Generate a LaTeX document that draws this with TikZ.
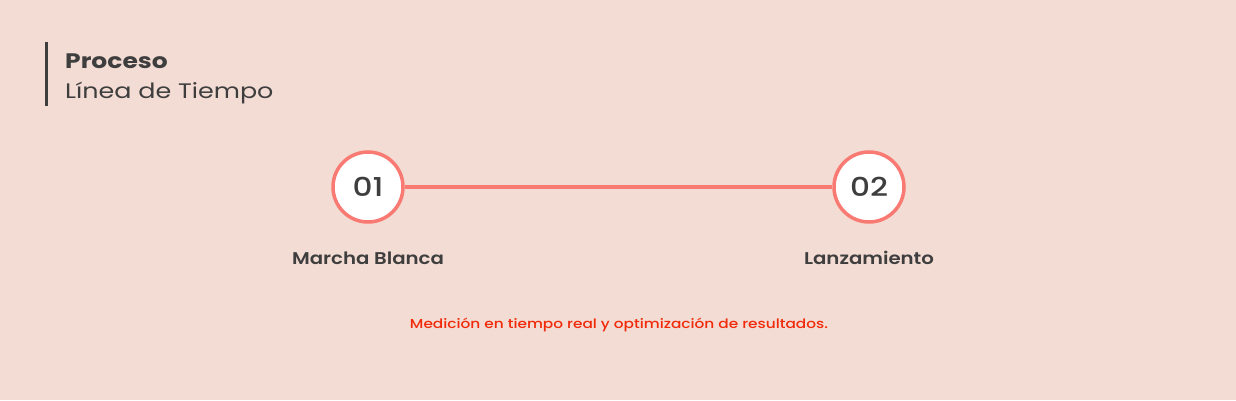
\documentclass[tikz,border=0pt]{standalone}
\usepackage{fontspec}
\usepackage{graphicx}
\setmainfont{Poppins}
\newfontfamily\popsemi{Poppins SemiBold}
\newfontfamily\popmed{Poppins Medium}
\definecolor{bg}{RGB}{243,220,211}
\definecolor{salmon}{RGB}{248,122,114}
\definecolor{ink}{RGB}{62,62,62}
\definecolor{redtxt}{RGB}{240,42,10}
\newcommand{\wide}[2]{\scalebox{#1}[1]{#2}}
\tikzset{
  stepcirc/.style={circle, draw=salmon, line width=3.5pt, fill=white, minimum size=70pt, inner sep=0pt, text=ink, font=\popmed\fontsize{26}{26}\selectfont},
  steplabel/.style={text=ink, font=\popsemi\fontsize{17}{17}\selectfont, anchor=base, inner sep=0pt},
  connector/.style={draw=salmon, line width=3.5pt}
}
\begin{document}
\begin{tikzpicture}[x=1pt,y=-1pt]
\fill[bg] (0,0) rectangle (1236,400);
\useasboundingbox (0,0) rectangle (1236,400);
\draw[ink, line width=2.5pt] (46.5,42) coordinate (bt) -- (46.5,106) coordinate (bb);
\node[anchor=base west, inner sep=0pt, text=ink, font=\bfseries\fontsize{21}{21}\selectfont] (t1) at (65,68) {\wide{1.19}{Proceso}};
\node[anchor=base west, inner sep=0pt, text=ink, font=\fontsize{21}{21}\selectfont] (t2) at (65,98) {\wide{1.21}{Línea de Tiempo}};
\node[stepcirc] (c1) at (368,187) {\wide{1.2}{01}};
\node[stepcirc] (c2) at (869,187) {\wide{1.2}{02}};
\draw[connector] (c1) -- (c2);
\node[steplabel] (l1) at (368,264) {\wide{1.16}{Marcha Blanca}};
\node[steplabel] (l2) at (869,264) {\wide{1.16}{Lanzamiento}};
\node[anchor=base, inner sep=0pt, text=redtxt, font=\popmed\fontsize{13}{13}\selectfont] (n) at (619,328) {\wide{1.18}{Medición en tiempo real y optimización de resultados.}};
\end{tikzpicture}
\end{document}
